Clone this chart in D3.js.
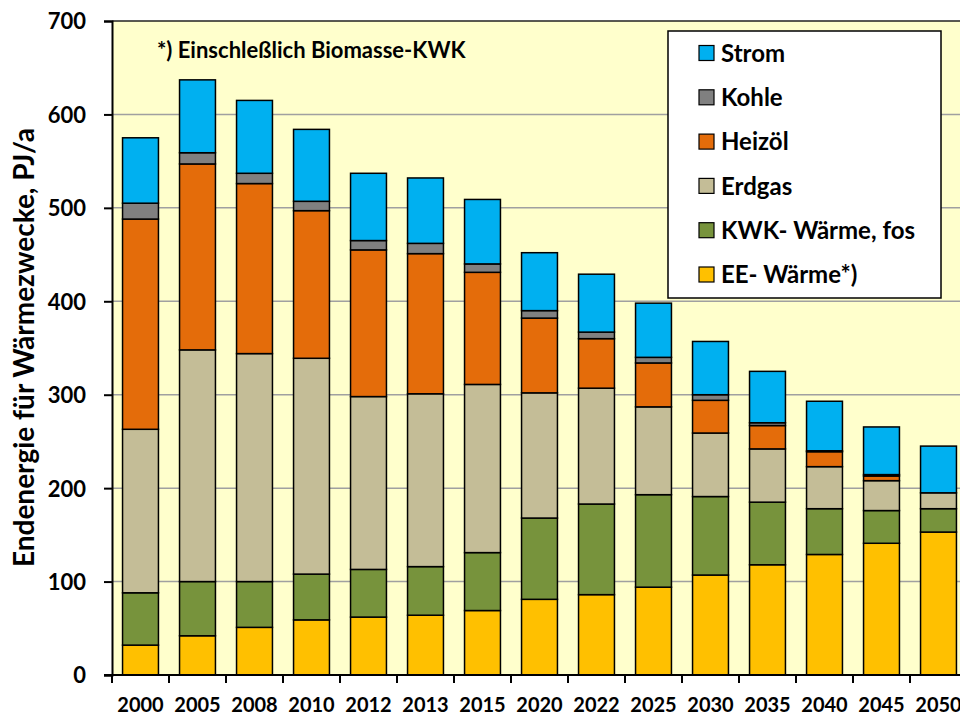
<!DOCTYPE html>
<html>
<head>
<meta charset="utf-8">
<script src="https://cdn.jsdelivr.net/npm/d3@7"></script>
<style>
	body { margin: 0; background: #fff; }
	svg text { font-family: Lato, "Open Sans", sans-serif; font-weight: bold; fill: #000; }
</style>
</head>
<body>
<svg id="main"></svg>
<script>
var years = ['2000','2005','2008','2010','2012','2013','2015','2020','2022','2025','2030','2035','2040','2045','2050'];
// stacked bottom -> top
var eeWaerme  = [32, 42, 51, 59, 62, 64, 69, 81, 86, 94, 107, 118, 129, 141, 153];
var kwkWaerme = [56, 58, 49, 49, 51, 52, 62, 87, 97, 99, 84, 67, 49, 35, 25];
var erdgas    = [175, 248, 244, 231, 185, 185, 180, 134, 124, 94, 68, 57, 45, 32, 17];
var heizoel   = [225, 199, 182, 158, 157, 150, 120, 80, 53, 47, 35, 25, 16, 5, 0];
var kohle     = [17, 12, 11, 10, 10, 11, 9, 8, 7, 6, 6, 3, 1, 1.5, 0];
var strom     = [70, 78, 78, 77, 72, 70, 69, 62, 62, 58, 57, 55, 53, 51, 50];
var yTicks = [0, 100, 200, 300, 400, 500, 600, 700];

var series = [
	{key: 'ee', name: 'EE- Wärme*)', values: eeWaerme, color: '#FFC000'},
	{key: 'kwk', name: 'KWK- Wärme, fos', values: kwkWaerme, color: '#77933C'},
	{key: 'gas', name: 'Erdgas', values: erdgas, color: '#C4BD97'},
	{key: 'oel', name: 'Heizöl', values: heizoel, color: '#E46C0A'},
	{key: 'kohle', name: 'Kohle', values: kohle, color: '#808080'},
	{key: 'strom', name: 'Strom', values: strom, color: '#00B0F0'},
];

var width = 960, height = 715;
var svg = d3.select('#main').attr('width', width).attr('height', height);

var pLeft = 112, pTop = 21, pBottom = 675, pRight = 967;

var rows = years.map((yr, i) => {
	var r = {year: yr};
	series.forEach(s => r[s.key] = s.values[i]);
	return r;
});
var stack = d3.stack().keys(series.map(s => s.key))(rows);

var x = d3.scaleBand().domain(years).range([pLeft, pRight]).paddingInner(0.37).paddingOuter(0.185);
var y = d3.scaleLinear().domain([0, 700]).range([pBottom, pTop]);

// plot background
svg.append('rect')
	.attr('x', pLeft).attr('y', pTop)
	.attr('width', pRight - pLeft).attr('height', pBottom - pTop)
	.attr('fill', '#FFFFCC');

// gridlines
svg.append('g').selectAll('line').data(yTicks.filter(t => t > 0 && t < 700)).join('line')
	.attr('x1', pLeft).attr('x2', pRight)
	.attr('y1', d => y(d)).attr('y2', d => y(d))
	.attr('stroke', '#A0A0A0').attr('stroke-width', 1.5);

// top border
svg.append('line')
	.attr('x1', pLeft).attr('x2', pRight).attr('y1', pTop).attr('y2', pTop)
	.attr('stroke', '#222').attr('stroke-width', 1.5);

// bars
svg.append('g').selectAll('g').data(stack).join('g')
	.attr('fill', (d, i) => series[i].color)
	.selectAll('rect').data(d => d.filter(p => p[1] - p[0] > 0)).join('rect')
	.attr('x', d => x(d.data.year))
	.attr('width', x.bandwidth())
	.attr('y', d => y(d[1]))
	.attr('height', d => y(d[0]) - y(d[1]))
	.attr('stroke', '#000').attr('stroke-width', 1.5);

// y axis
var yAxis = svg.append('g').attr('transform', `translate(${pLeft},0)`)
	.call(d3.axisLeft(y).tickValues(yTicks).tickSize(8).tickPadding(18).tickFormat(d3.format('d')));
yAxis.select('.domain').attr('stroke', '#000').attr('stroke-width', 2);
yAxis.selectAll('.tick line').attr('stroke', '#000').attr('stroke-width', 2);
yAxis.selectAll('.tick text').style('font-size', '22px').attr('dy', '0.36em');

// x axis
var xAxis = svg.append('g').attr('transform', `translate(0,${pBottom})`)
	.call(d3.axisBottom(x).tickSize(0).tickPadding(23));
xAxis.select('.domain').remove();
xAxis.append('line').attr('x1', pLeft - 8).attr('x2', pRight).attr('stroke', '#000').attr('stroke-width', 2);
xAxis.selectAll('.sep').data(d3.range(years.length + 1)).join('line').attr('class', 'sep')
	.attr('x1', i => pLeft + i * x.step()).attr('x2', i => pLeft + i * x.step())
	.attr('y1', 0).attr('y2', 8)
	.attr('stroke', '#000').attr('stroke-width', 2);
xAxis.selectAll('.tick text').style('font-size', '20px').attr('dy', '0.71em');

// y title
svg.append('text')
	.attr('transform', `translate(34,${(128 + 567) / 2}) rotate(-90)`)
	.attr('text-anchor', 'middle')
	.style('font-size', '28px')
	.text('Endenergie für Wärmezwecke, PJ/a');

// note
svg.append('text')
	.attr('x', 157).attr('y', 58)
	.style('font-size', '22px')
	.text('*) Einschleßlich Biomasse-KWK');

// legend
var legend = svg.append('g').attr('transform', 'translate(668,31)');
legend.append('rect').attr('width', 273).attr('height', 267)
	.attr('fill', '#fff').attr('stroke', '#000').attr('stroke-width', 1.5);
var item = legend.selectAll('g').data(series.slice().reverse()).join('g')
	.attr('transform', (d, i) => `translate(31,${22 + i * 44.3})`);
item.append('rect').attr('x', 0).attr('y', -7.5).attr('width', 15).attr('height', 15)
	.attr('fill', d => d.color).attr('stroke', '#000').attr('stroke-width', 1.2);
item.append('text').attr('x', 22).attr('dy', '0.36em')
	.style('font-size', '24px')
	.text(d => d.name);
</script>
</body>
</html>
